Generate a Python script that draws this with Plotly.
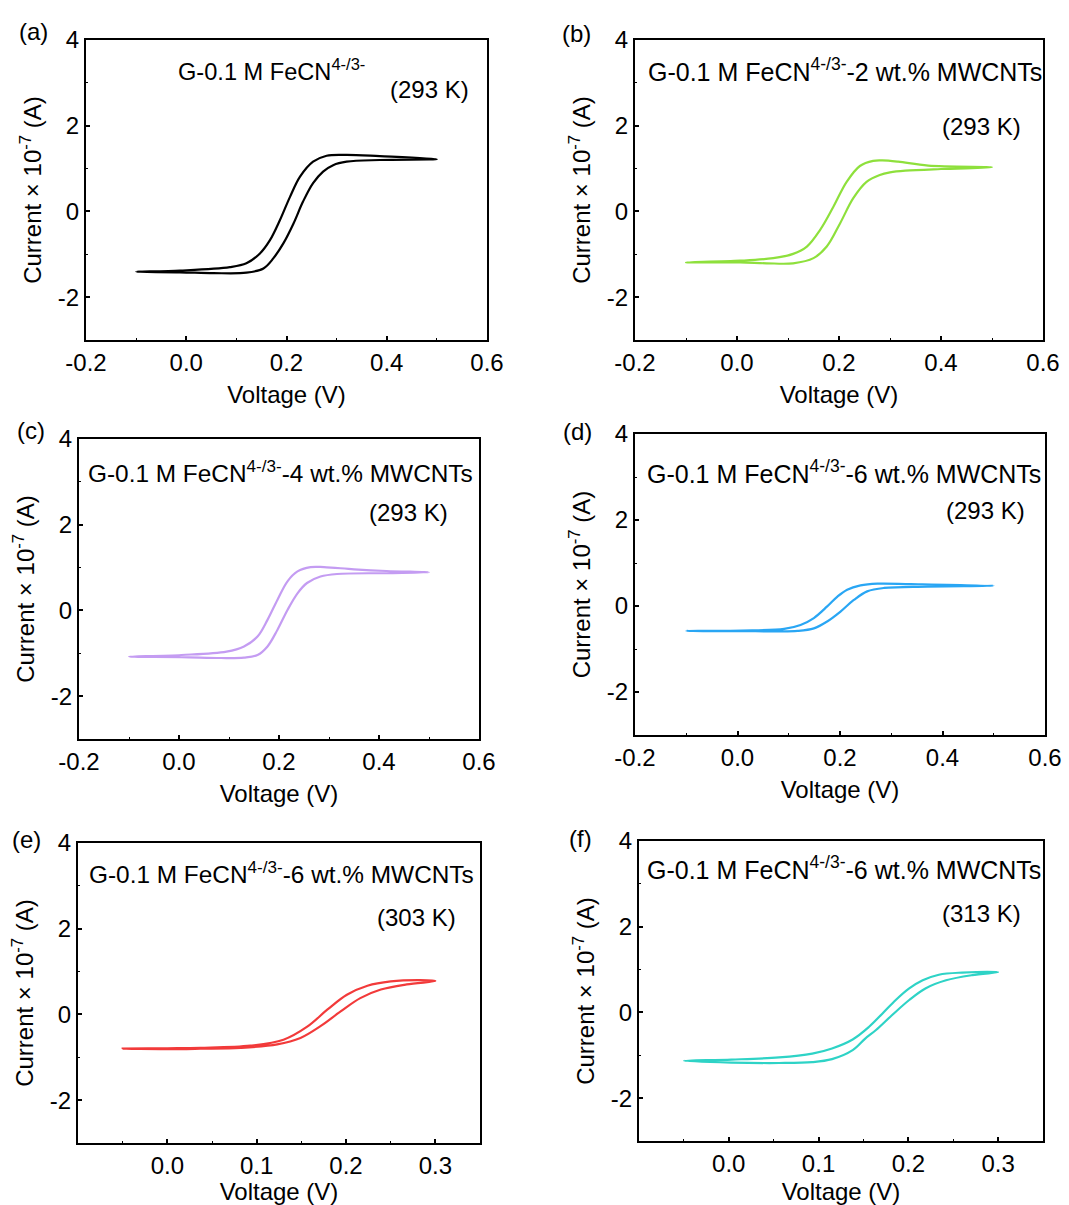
import plotly.graph_objects as go

W, H = 1069, 1205

# ---------------- data (voltage in V, current in 1e-7 A) ----------------
# (a) G-0.1 M FeCN, 293 K
Va_fwd = [-0.10, -0.0125, 0.087, 0.12, 0.147, 0.167, 0.187, 0.207, 0.227, 0.253, 0.28, 0.32, 0.386, 0.50]
Ia_fwd = [-1.41, -1.38, -1.30, -1.21, -0.98, -0.67, -0.20, 0.34, 0.81, 1.16, 1.30, 1.32, 1.29, 1.22]
Va_rev = [0.50, 0.386, 0.32, 0.293, 0.273, 0.253, 0.233, 0.214, 0.194, 0.174, 0.154, 0.12, 0.054, -0.0125, -0.10]
Ia_rev = [1.22, 1.20, 1.16, 1.08, 0.93, 0.66, 0.23, -0.28, -0.74, -1.09, -1.33, -1.43, -1.44, -1.42, -1.41]

# (b) 2 wt.% MWCNTs, 293 K
Vb_fwd = [-0.10, 0.006, 0.071, 0.110, 0.137, 0.163, 0.189, 0.215, 0.241, 0.267, 0.285, 0.316, 0.375, 0.50]
Ib_fwd = [-1.19, -1.15, -1.09, -0.99, -0.82, -0.43, 0.11, 0.69, 1.06, 1.18, 1.19, 1.16, 1.07, 1.03]
Vb_rev = [0.50, 0.40, 0.33, 0.30, 0.28, 0.254, 0.228, 0.202, 0.176, 0.15, 0.11, 0.058, 0.006, -0.10]
Ib_rev = [1.01, 0.99, 0.95, 0.91, 0.85, 0.69, 0.31, -0.28, -0.82, -1.09, -1.21, -1.21, -1.19, -1.19]

# (c) 4 wt.% MWCNTs, 293 K
Vc_fwd = [-0.10, 0.005, 0.095, 0.130, 0.157, 0.177, 0.197, 0.217, 0.237, 0.263, 0.29, 0.35, 0.415, 0.50]
Ic_fwd = [-1.08, -1.04, -0.96, -0.84, -0.61, -0.22, 0.25, 0.68, 0.91, 1.01, 1.01, 0.96, 0.92, 0.89]
Vc_rev = [0.50, 0.415, 0.316, 0.283, 0.256, 0.237, 0.217, 0.197, 0.177, 0.157, 0.130, 0.084, 0.005, -0.10]
Ic_rev = [0.88, 0.87, 0.85, 0.79, 0.64, 0.40, 0.01, -0.45, -0.84, -1.04, -1.10, -1.11, -1.09, -1.08]

# (d) 6 wt.% MWCNTs, 293 K
Vd_fwd = [-0.10, 0.008, 0.091, 0.123, 0.149, 0.175, 0.195, 0.214, 0.240, 0.273, 0.338, 0.50]
Id_fwd = [-0.58, -0.57, -0.53, -0.44, -0.28, -0.01, 0.22, 0.38, 0.48, 0.52, 0.51, 0.47]
Vd_rev = [0.50, 0.37, 0.286, 0.253, 0.227, 0.201, 0.175, 0.149, 0.117, 0.078, 0.008, -0.10]
Id_rev = [0.46, 0.45, 0.42, 0.34, 0.14, -0.13, -0.36, -0.52, -0.58, -0.59, -0.585, -0.58]

# (e) 6 wt.% MWCNTs, 303 K
Ve_fwd = [-0.05, 0.0, 0.037, 0.093, 0.130, 0.157, 0.179, 0.201, 0.224, 0.25, 0.283, 0.30]
Ie_fwd = [-0.80, -0.79, -0.78, -0.73, -0.59, -0.28, 0.11, 0.46, 0.67, 0.77, 0.80, 0.78]
Ve_rev = [0.30, 0.268, 0.239, 0.216, 0.194, 0.171, 0.149, 0.123, 0.082, 0.037, 0.0, -0.05]
Ie_rev = [0.76, 0.70, 0.58, 0.38, 0.07, -0.28, -0.55, -0.70, -0.78, -0.80, -0.81, -0.80]

# (f) 6 wt.% MWCNTs, 313 K
Vf_fwd = [-0.05, 0.003, 0.056, 0.093, 0.115, 0.138, 0.156, 0.171, 0.186, 0.201, 0.216, 0.234, 0.26, 0.30]
If_fwd = [-1.13, -1.10, -1.05, -0.96, -0.84, -0.63, -0.34, -0.03, 0.29, 0.56, 0.75, 0.88, 0.93, 0.94]
Vf_rev = [0.30, 0.271, 0.242, 0.219, 0.201, 0.182, 0.164, 0.152, 0.138, 0.115, 0.093, 0.056, 0.003, -0.05]
If_rev = [0.92, 0.87, 0.75, 0.56, 0.29, -0.06, -0.41, -0.61, -0.88, -1.09, -1.16, -1.18, -1.17, -1.13]

panel_letters = ["(a)", "(b)", "(c)", "(d)", "(e)", "(f)"]
sample_labels = [
    "G-0.1 M FeCN<sup>4-/3-</sup>",
    "G-0.1 M FeCN<sup>4-/3-</sup>-2 wt.% MWCNTs",
    "G-0.1 M FeCN<sup>4-/3-</sup>-4 wt.% MWCNTs",
    "G-0.1 M FeCN<sup>4-/3-</sup>-6 wt.% MWCNTs",
    "G-0.1 M FeCN<sup>4-/3-</sup>-6 wt.% MWCNTs",
    "G-0.1 M FeCN<sup>4-/3-</sup>-6 wt.% MWCNTs",
]
temps = ["(293 K)", "(293 K)", "(293 K)", "(293 K)", "(303 K)", "(313 K)"]
x_ticks_wide = [-0.2, 0.0, 0.2, 0.4, 0.6]
x_text_wide = ["-0.2", "0.0", "0.2", "0.4", "0.6"]
x_ticks_narrow = [0.0, 0.1, 0.2, 0.3]
x_text_narrow = ["0.0", "0.1", "0.2", "0.3"]
y_ticks = [-2, 0, 2, 4]
y_text = ["-2", "0", "2", "4"]

colors = ["#000000", "#8EE03C", "#C49CF2", "#29A6F4", "#F23A3A", "#2ED3C6"]

curves = [
    (Va_fwd, Ia_fwd, Va_rev, Ia_rev),
    (Vb_fwd, Ib_fwd, Vb_rev, Ib_rev),
    (Vc_fwd, Ic_fwd, Vc_rev, Ic_rev),
    (Vd_fwd, Id_fwd, Vd_rev, Id_rev),
    (Ve_fwd, Ie_fwd, Ve_rev, Ie_rev),
    (Vf_fwd, If_fwd, Vf_rev, If_rev),
]

# plot boxes in pixels: (left, right, top, bottom)
boxes = [
    (86, 487, 40, 340),
    (635, 1043, 40, 340),
    (79, 479, 439, 739),
    (635, 1045, 434, 735),
    (78, 480, 843, 1143),
    (639, 1043, 841, 1141),
]
letter_pos = [(33, 31), (576, 33), (31, 430), (577, 431), (26, 839), (580, 838)]
label_pos = [(176, 70), (646, 70), (86, 472), (645, 472), (87, 873), (645, 868)]
label_size = [23.6, 25, 24.4, 25, 24.4, 25]
temp_pos = [(471, 90), (1023, 127), (450, 512), (1027, 510), (458, 917), (1023, 913)]

FONT = "Arial, 'Liberation Sans', sans-serif"
FS = 24

fig = go.Figure()
annotations = []
for i in range(6):
    n = "" if i == 0 else str(i + 1)
    vf, cf, vr, cr = curves[i]
    fig.add_trace(go.Scatter(
        x=vf + vr[1:], y=cf + cr[1:], mode="lines",
        line=dict(color=colors[i], width=2.2, shape="spline", smoothing=1.0),
        xaxis="x" + n, yaxis="y" + n, showlegend=False,
    ))
    l, r, t, b = boxes[i]
    narrow = i >= 4
    xax = dict(
        domain=[l / W, r / W],
        range=[-0.1, 0.35] if narrow else [-0.2, 0.6],
        tickvals=x_ticks_narrow if narrow else x_ticks_wide,
        ticktext=x_text_narrow if narrow else x_text_wide,
        ticks="inside", ticklen=4, tickwidth=1.5, tickcolor="black",
        minor=dict(ticks="inside", ticklen=2, tickwidth=1.2, tickcolor="black",
                   dtick=0.05 if narrow else 0.1, tick0=0),
        showline=True, linewidth=2, linecolor="black", mirror=True,
        showgrid=False, zeroline=False,
        tickfont=dict(family=FONT, size=FS, color="black"),
        title=dict(text="Voltage (V)", font=dict(family=FONT, size=FS, color="black"), standoff=11),
        anchor="y" + n, automargin=False,
    )
    yax = dict(
        domain=[1 - b / H, 1 - t / H],
        range=[-3, 4],
        tickvals=y_ticks, ticktext=y_text,
        ticks="inside", ticklen=4, tickwidth=1.5, tickcolor="black",
        minor=dict(ticks="inside", ticklen=2, tickwidth=1.2, tickcolor="black", dtick=1, tick0=0),
        showline=True, linewidth=2, linecolor="black", mirror=True,
        showgrid=False, zeroline=False,
        tickfont=dict(family=FONT, size=FS, color="black"),
        title=dict(text="Current × 10<sup>-7</sup> (A)", font=dict(family=FONT, size=FS, color="black"), standoff=9),
        anchor="x" + n, automargin=False,
    )
    fig.layout["xaxis" + n] = xax
    fig.layout["yaxis" + n] = yax

    lx, ly = letter_pos[i]
    annotations.append(dict(text=panel_letters[i], x=lx / W, y=1 - ly / H, xref="paper", yref="paper",
                            xanchor="center", yanchor="middle", showarrow=False,
                            font=dict(family=FONT, size=FS, color="black")))
    sx, sy = label_pos[i]
    annotations.append(dict(text=sample_labels[i], x=sx / W, y=1 - sy / H, xref="paper", yref="paper",
                            xanchor="left", yanchor="middle", showarrow=False,
                            font=dict(family=FONT, size=label_size[i], color="black")))
    tx, ty = temp_pos[i]
    annotations.append(dict(text=temps[i], x=tx / W, y=1 - ty / H, xref="paper", yref="paper",
                            xanchor="right", yanchor="middle", showarrow=False,
                            font=dict(family=FONT, size=FS, color="black")))

fig.update_layout(
    width=W, height=H,
    margin=dict(l=0, r=0, t=0, b=0),
    paper_bgcolor="white", plot_bgcolor="white",
    annotations=annotations,
    showlegend=False,
)

fig.write_html("out.html")
